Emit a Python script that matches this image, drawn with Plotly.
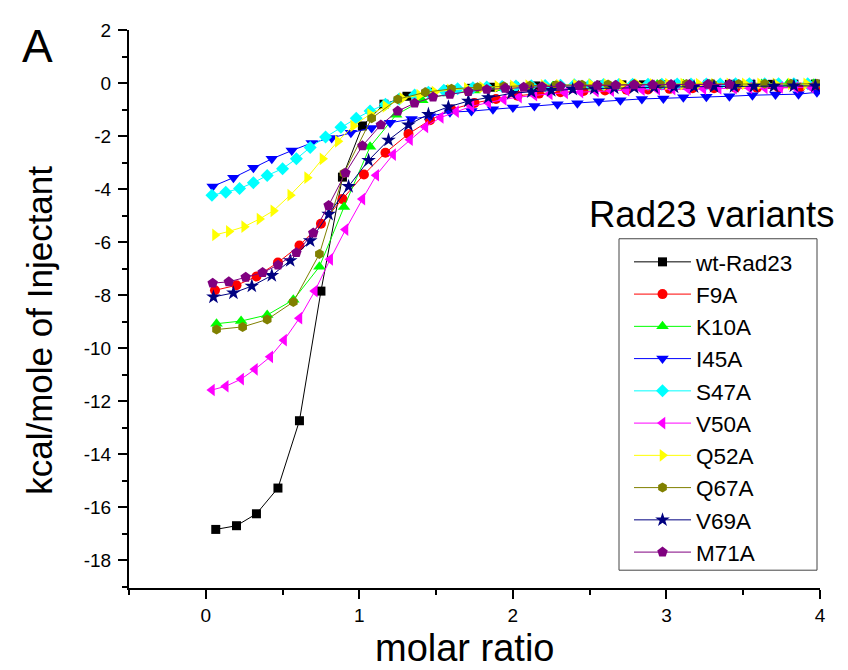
import plotly.graph_objects as go

# ---------------- data ----------------
names = ["wt-Rad23", "F9A", "K10A", "I45A", "S47A", "V50A", "Q52A", "Q67A", "V69A", "M71A"]

wt_x = [0.065, 0.2, 0.33, 0.47, 0.61, 0.75, 0.89, 1.02, 1.16, 1.31, 1.45, 1.59, 1.73, 1.87, 2.01, 2.15, 2.29, 2.43,
        2.57, 2.71, 2.85, 2.99, 3.13, 3.27, 3.41, 3.55, 3.69, 3.83, 3.97]
wt_y = [-16.84, -16.7, -16.25, -15.28, -12.74, -7.85, -3.55, -1.62, -0.8, -0.5, -0.35, -0.26, -0.2, -0.16, -0.13,
        -0.11, -0.1, -0.09, -0.08, -0.07, -0.07, -0.06, -0.06, -0.05, -0.05, -0.05, -0.05, -0.04, -0.04]

f9a_x = [0.06, 0.2, 0.33, 0.47, 0.61, 0.75, 0.89, 1.03, 1.17, 1.32, 1.46, 1.6, 1.75, 1.89, 2.03, 2.17, 2.31, 2.46,
         2.6, 2.74, 2.88, 3.02, 3.17, 3.31, 3.45, 3.59, 3.73, 3.87, 3.99]
f9a_y = [-7.82, -7.63, -7.3, -6.77, -6.13, -5.31, -4.38, -3.45, -2.63, -1.92, -1.4, -1.0, -0.75, -0.6, -0.48, -0.4,
         -0.35, -0.3, -0.28, -0.25, -0.24, -0.22, -0.2, -0.2, -0.18, -0.18, -0.17, -0.17, -0.16]

k10a_x = [0.07, 0.23, 0.4, 0.57, 0.74, 0.9, 1.07, 1.24, 1.41, 1.58, 1.75, 1.92, 2.09, 2.26, 2.43, 2.6, 2.77, 2.94,
          3.11, 3.28, 3.45, 3.62, 3.79, 3.96]
k10a_y = [-9.08, -8.98, -8.75, -8.18, -6.93, -4.68, -2.4, -1.2, -0.65, -0.4, -0.28, -0.2, -0.15, -0.12, -0.1, -0.08,
          -0.07, -0.06, -0.05, -0.05, -0.04, -0.04, -0.03, -0.03]

i45a_x = [0.045, 0.18, 0.31, 0.43, 0.56, 0.69, 0.82, 0.945, 1.08, 1.2, 1.34, 1.46, 1.59, 1.73, 1.87, 2.0, 2.14,
          2.29, 2.42, 2.56, 2.7, 2.84, 2.98, 3.11, 3.26, 3.41, 3.56, 3.71, 3.86, 3.98]
i45a_y = [-3.9, -3.57, -3.2, -2.86, -2.55, -2.26, -2.07, -1.88, -1.7, -1.5, -1.36, -1.25, -1.1, -1.06, -0.99, -0.92,
          -0.87, -0.8, -0.76, -0.69, -0.65, -0.6, -0.58, -0.54, -0.52, -0.5, -0.46, -0.43, -0.42, -0.35]

s47a_x = [0.04, 0.13, 0.22, 0.31, 0.4, 0.5, 0.59, 0.68, 0.78, 0.88, 0.98, 1.07, 1.17, 1.26, 1.36, 1.45, 1.55, 1.64,
          1.74, 1.83, 1.93, 2.02, 2.12, 2.21, 2.31, 2.4, 2.5, 2.59, 2.69, 2.78, 2.88, 2.97, 3.07, 3.16, 3.26, 3.35,
          3.45, 3.54, 3.64, 3.73, 3.83, 3.92]
s47a_y = [-4.23, -4.12, -3.98, -3.76, -3.49, -3.23, -2.86, -2.43, -2.04, -1.67, -1.33, -1.06, -0.8, -0.6, -0.45,
          -0.35, -0.27, -0.22, -0.18, -0.15, -0.13, -0.11, -0.1, -0.09, -0.08, -0.07, -0.07, -0.06, -0.06, -0.05,
          -0.05, -0.05, -0.04, -0.04, -0.04, -0.04, -0.03, -0.03, -0.03, -0.03, -0.03, -0.03]

v50a_x = [0.04, 0.13, 0.23, 0.32, 0.42, 0.51, 0.61, 0.71, 0.81, 0.91, 1.02, 1.11, 1.22, 1.33, 1.43, 1.53, 1.63,
          1.73, 1.84, 1.94, 2.04, 2.14, 2.24, 2.34, 2.44, 2.54, 2.64, 2.74, 2.84, 2.94, 3.04, 3.14, 3.24, 3.34, 3.44,
          3.54, 3.64, 3.74, 3.84, 3.94]
v50a_y = [-11.58, -11.44, -11.17, -10.8, -10.33, -9.7, -8.87, -7.85, -6.65, -5.53, -4.38, -3.48, -2.7, -2.14, -1.66,
          -1.3, -1.08, -0.88, -0.74, -0.62, -0.53, -0.46, -0.41, -0.37, -0.34, -0.31, -0.29, -0.27, -0.25, -0.24,
          -0.23, -0.22, -0.21, -0.2, -0.19, -0.18, -0.18, -0.17, -0.17, -0.16]

q52a_x = [0.06, 0.15, 0.25, 0.35, 0.44, 0.55, 0.66, 0.76, 0.86, 0.96, 1.07, 1.17, 1.28, 1.39, 1.49, 1.59, 1.7, 1.8,
          1.9, 2.0, 2.1, 2.2, 2.3, 2.41, 2.51, 2.61, 2.71, 2.81, 2.91, 3.01, 3.11, 3.21, 3.31, 3.41, 3.51, 3.61,
          3.71, 3.81, 3.91]
q52a_y = [-5.73, -5.6, -5.42, -5.13, -4.82, -4.23, -3.57, -2.86, -2.2, -1.62, -1.18, -0.88, -0.58, -0.46, -0.34,
          -0.26, -0.2, -0.16, -0.13, -0.11, -0.1, -0.09, -0.08, -0.07, -0.06, -0.06, -0.05, -0.05, -0.05, -0.04,
          -0.04, -0.04, -0.04, -0.03, -0.03, -0.03, -0.03, -0.03, -0.03]

q67a_x = [0.07, 0.24, 0.4, 0.57, 0.74, 0.9, 1.08, 1.25, 1.43, 1.6, 1.77, 1.94, 2.11, 2.28, 2.45, 2.62, 2.79, 2.96,
          3.13, 3.3, 3.47, 3.64, 3.81, 3.98]
q67a_y = [-9.3, -9.2, -8.92, -8.26, -6.45, -3.4, -1.33, -0.61, -0.35, -0.22, -0.16, -0.12, -0.1, -0.08, -0.07,
          -0.06, -0.05, -0.05, -0.04, -0.04, -0.04, -0.03, -0.03, -0.03]

v69a_x = [0.05, 0.18, 0.3, 0.43, 0.55, 0.68, 0.8, 0.93, 1.06, 1.19, 1.32, 1.45, 1.58, 1.71, 1.84, 1.99, 2.12, 2.25,
          2.39, 2.53, 2.66, 2.79, 2.92, 3.05, 3.18, 3.31, 3.44, 3.57, 3.7, 3.83, 3.97]
v69a_y = [-8.07, -7.92, -7.66, -7.26, -6.7, -5.95, -4.95, -3.9, -2.92, -2.15, -1.58, -1.18, -0.9, -0.68, -0.55,
          -0.39, -0.33, -0.28, -0.24, -0.21, -0.19, -0.17, -0.16, -0.15, -0.14, -0.13, -0.13, -0.12, -0.12, -0.11,
          -0.11]

m71a_x = [0.045, 0.15, 0.26, 0.37, 0.47, 0.59, 0.7, 0.8, 0.91, 1.02, 1.14, 1.25, 1.36, 1.48, 1.59, 1.71, 1.83,
          1.95, 2.07, 2.19, 2.31, 2.43, 2.55, 2.67, 2.79, 2.91, 3.03, 3.15, 3.27, 3.41]
m71a_y = [-7.55, -7.5, -7.33, -7.15, -6.87, -6.4, -5.66, -4.62, -3.39, -2.37, -1.58, -1.06, -0.76, -0.53, -0.43,
          -0.32, -0.24, -0.2, -0.16, -0.14, -0.12, -0.1, -0.09, -0.08, -0.07, -0.07, -0.06, -0.06, -0.05, -0.05]

series_x = [wt_x, f9a_x, k10a_x, i45a_x, s47a_x, v50a_x, q52a_x, q67a_x, v69a_x, m71a_x]
series_y = [wt_y, f9a_y, k10a_y, i45a_y, s47a_y, v50a_y, q52a_y, q67a_y, v69a_y, m71a_y]

y_tickvals = [2, 0, -2, -4, -6, -8, -10, -12, -14, -16, -18]
y_ticktext = ["2", "0", "-2", "-4", "-6", "-8", "-10", "-12", "-14", "-16", "-18"]
x_tickvals = [0, 1, 2, 3, 4]
x_ticktext = ["0", "1", "2", "3", "4"]

colors = ["#000000", "#FF0000", "#00FF00", "#0000FF", "#00FFFF", "#FF00FF", "#FFFF00", "#808000", "#000080", "#800080"]
symbols = ["square", "circle", "triangle-up", "triangle-down", "diamond", "triangle-left", "triangle-right",
           "hexagon", "star", "pentagon"]
sizes = [9, 10, 11, 11, 10, 11, 11, 10, 11, 11]

FONT = "Liberation Sans, Arial, sans-serif"

# the page body adds an 8px offset; plot area is placed to land at screen x 129..820, y 24..588
OFF = 8
L, R, T, B = 129 - OFF, 848 - 820 + OFF, 24 - OFF, 670 - 588 + OFF
PW, PH = 820 - 129, 588 - 24


def px(sx):
    return (sx - 129) / PW


def py(sy):
    return (588 - sy) / PH


fig = go.Figure()
for nm, xs, ys, c, s, sz in zip(names, series_x, series_y, colors, symbols, sizes):
    fig.add_trace(go.Scatter(
        x=xs, y=ys, name=nm, mode="lines+markers",
        line=dict(color=c, width=1),
        marker=dict(color=c, symbol=s, size=sz, line=dict(width=0)),
    ))

axis_common = dict(
    showline=True, linecolor="black", linewidth=2,
    ticks="outside", ticklen=9, tickwidth=2, tickcolor="black",
    showgrid=False, zeroline=False, mirror=False,
    tickfont=dict(family=FONT, size=19, color="black"),
)

fig.update_xaxes(range=[-0.5, 4], tickvals=x_tickvals, ticktext=x_ticktext,
                 minor=dict(dtick=0.5, tick0=0, ticklen=5, tickwidth=2, tickcolor="black", ticks="outside"),
                 ticklabelstandoff=0, **axis_common)
fig.update_yaxes(range=[-19.05, 2], tickvals=y_tickvals, ticktext=y_ticktext,
                 minor=dict(dtick=1, tick0=0, ticklen=5, tickwidth=2, tickcolor="black", ticks="outside"),
                 ticklabelstandoff=3, **axis_common)

fig.update_layout(
    width=848, height=670,
    margin=dict(l=L, r=R, t=T, b=B),
    paper_bgcolor="white", plot_bgcolor="white",
    font=dict(family=FONT, color="black"),
    showlegend=True,
    legend=dict(
        x=px(629), y=py(237), xanchor="left", yanchor="top",
        bgcolor="rgba(0,0,0,0)", borderwidth=0,
        font=dict(family=FONT, size=22.5, color="black"),
        itemwidth=57, tracegroupgap=0,
    ),
    shapes=[dict(type="rect", xref="paper", yref="paper",
                 x0=px(619), x1=px(817), y0=py(570), y1=py(235),
                 line=dict(color="#444444", width=1), fillcolor="rgba(0,0,0,0)")],
    annotations=[
        dict(text="A", xref="paper", yref="paper", x=px(38), y=py(40),
             showarrow=False, font=dict(family=FONT, size=46, color="black"), xanchor="center", yanchor="middle"),
        dict(text="kcal/mole of Injectant", xref="paper", yref="paper", x=px(40), y=py(328),
             showarrow=False, textangle=-90, font=dict(family=FONT, size=35, color="black"),
             xanchor="center", yanchor="middle"),
        dict(text="molar ratio", xref="paper", yref="paper", x=px(465), y=py(649),
             showarrow=False, font=dict(family=FONT, size=38, color="black"), xanchor="center", yanchor="middle"),
        dict(text="Rad23 variants", xref="paper", yref="paper", x=px(712), y=py(210),
             showarrow=False, font=dict(family=FONT, size=36.5, color="black"), xanchor="center", yanchor="middle"),
    ],
)

fig.write_html("out.html")
